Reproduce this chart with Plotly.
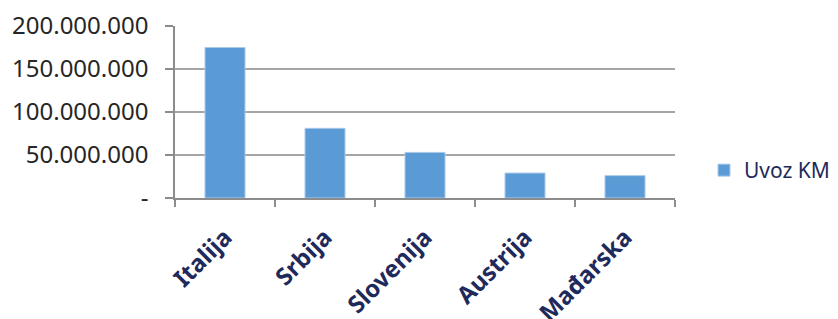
import plotly.graph_objects as go

categories = ["Italija", "Srbija", "Slovenija", "Austrija", "Mađarska"]
uvoz_km = [175000000, 81000000, 53000000, 29000000, 26000000]
tick_vals = [0, 50000000, 100000000, 150000000, 200000000]
tick_text = ["-", "50.000.000", "100.000.000", "150.000.000", "200.000.000"]

navy = "#1F2A5C"
grid = "#A6A6A6"
axis = "#8C8C8C"

fig = go.Figure()
fig.add_trace(go.Bar(
    x=categories, y=uvoz_km, name="Uvoz KM",
    marker=dict(color="#5B9BD5", line=dict(color="#A9C9EA", width=1)),
))

fig.update_layout(
    width=838, height=319,
    margin=dict(l=175, r=163, t=26, b=121, autoexpand=False),
    paper_bgcolor="white", plot_bgcolor="white",
    bargap=0.6,
    showlegend=True,
    legend=dict(x=1.058, y=0.16, xanchor="left", yanchor="middle",
                font=dict(family="Noto Sans", size=21, color=navy),
                itemwidth=30, bgcolor="rgba(0,0,0,0)"),
    font=dict(family="Noto Sans"),
)
fig.update_yaxes(
    range=[0, 200000000], tickvals=tick_vals, ticktext=tick_text,
    showgrid=True, gridcolor=grid, gridwidth=1.5,
    showline=True, linecolor=axis, linewidth=1.5,
    ticks="outside", ticklen=8, tickcolor=axis, tickwidth=1.5,
    ticklabelstandoff=12, automargin=False,
    tickfont=dict(family="Noto Sans", size=24, color="#262626"),
    zeroline=False,
)
fig.update_xaxes(
    showline=True, linecolor=axis, linewidth=1.5,
    ticks="outside", ticklen=7, tickcolor=axis, tickwidth=1.5,
    tickson="boundaries", automargin=False,
    tickangle=-45, ticklabelstandoff=14,
    tickfont=dict(family="Noto Sans", size=24, color=navy, weight="bold"),
)

fig.write_html("out.html", config={"displayModeBar": False},
               post_script="document.body.style.margin='0';")
